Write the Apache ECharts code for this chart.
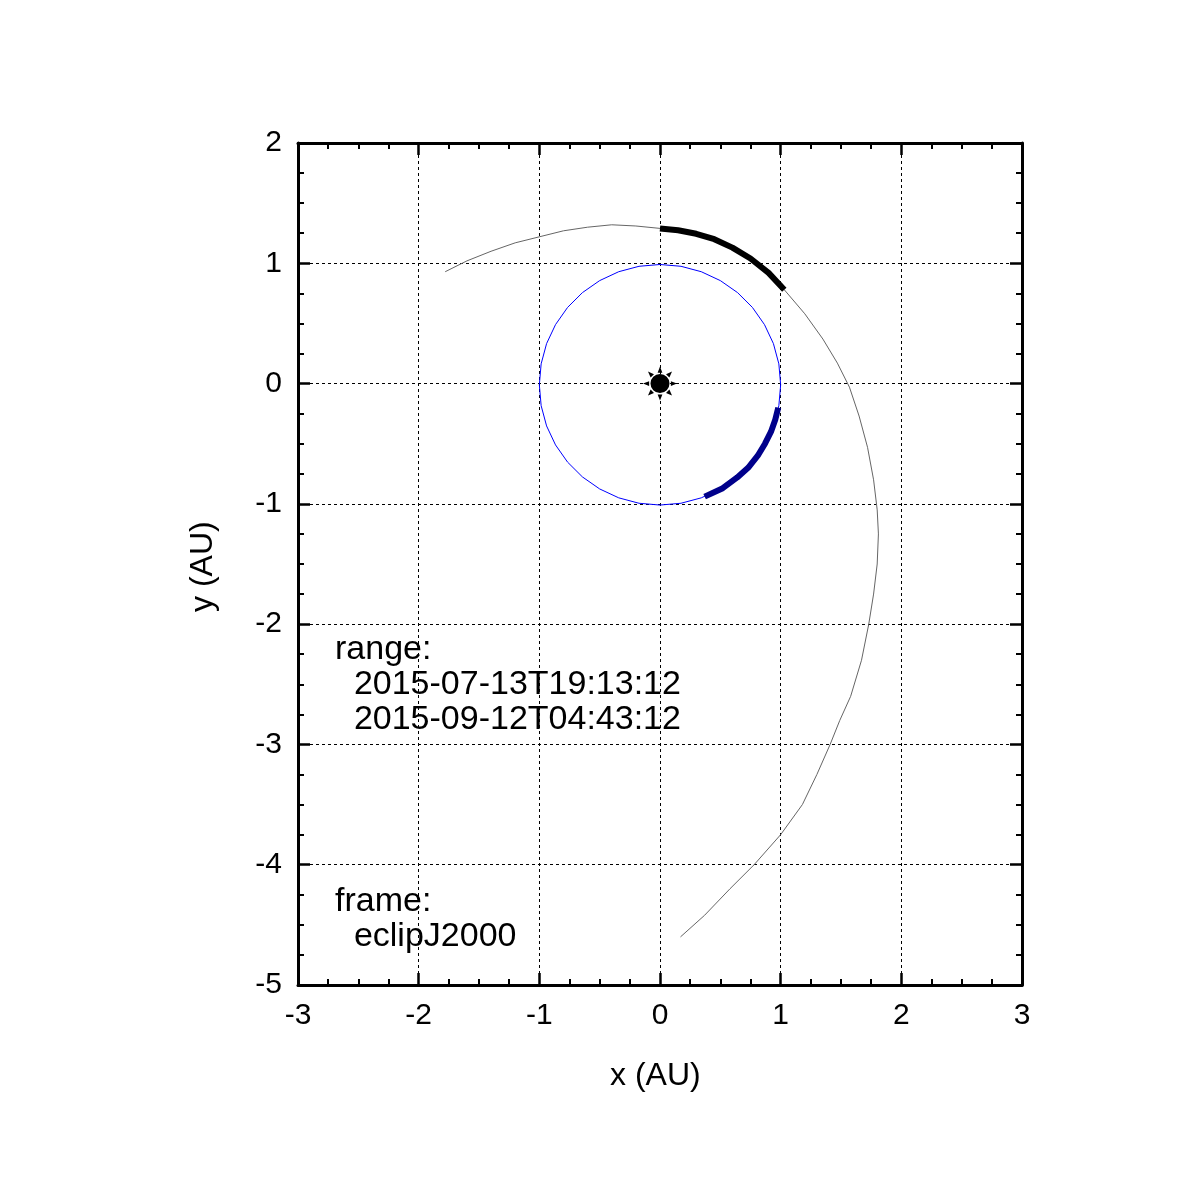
<!DOCTYPE html>
<html>
<head>
<meta charset="utf-8">
<script src="https://cdn.jsdelivr.net/npm/echarts@6/dist/echarts.min.js"></script>
<style>html,body{margin:0;background:#fff}#main{width:1199px;height:1200px}</style>
</head>
<body>
<div id="main"></div>
<script>
// spacecraft trajectory (AU)
var trajectory = [[-1.78,0.93],[-1.6,1.02],[-1.4,1.1],[-1.2,1.17],[-1.0,1.22],[-0.8,1.27],[-0.6,1.30],[-0.4,1.32],[-0.2,1.31],[0,1.29],[0.25,1.25],[0.5,1.17],[0.75,1.03],[1.03,0.78],[1.2,0.58],[1.35,0.37],[1.47,0.17],[1.57,-0.03],[1.65,-0.27],[1.72,-0.53],[1.77,-0.8],[1.80,-1.05],[1.81,-1.25],[1.80,-1.5],[1.77,-1.75],[1.73,-2.0],[1.67,-2.3],[1.58,-2.6],[1.49,-2.8],[1.41,-3.0],[1.30,-3.25],[1.18,-3.5],[1.00,-3.75],[0.78,-4.0],[0.58,-4.2],[0.37,-4.42],[0.17,-4.6]];
var trajectoryRange = [[0,1.29],[0.15,1.275],[0.3,1.245],[0.45,1.2],[0.6,1.13],[0.75,1.04],[0.9,0.92],[1.03,0.78]];
// earth orbit
var earthOrbit = [[1,-0.01],[0.985,0.164],[0.94,0.332],[0.866,0.49],[0.766,0.633],[0.643,0.756],[0.5,0.856],[0.342,0.93],[0.174,0.975],[0,0.99],[-0.174,0.975],[-0.342,0.93],[-0.5,0.856],[-0.643,0.756],[-0.766,0.633],[-0.866,0.49],[-0.94,0.332],[-0.985,0.164],[-1,-0.01],[-0.985,-0.184],[-0.94,-0.352],[-0.866,-0.51],[-0.766,-0.653],[-0.643,-0.776],[-0.5,-0.876],[-0.342,-0.95],[-0.174,-0.995],[0,-1.01],[0.174,-0.995],[0.342,-0.95],[0.5,-0.876],[0.643,-0.776],[0.766,-0.653],[0.866,-0.51],[0.94,-0.352],[0.985,-0.184],[1,-0.01]];
var earthRange = [[0.98,-0.2],[0.955,-0.3],[0.92,-0.4],[0.87,-0.5],[0.81,-0.6],[0.73,-0.7],[0.64,-0.78],[0.52,-0.87],[0.37,-0.94]];
var sun = [[0,0]];
var rangeText = ['range:', '  2015-07-13T19:13:12', '  2015-09-12T04:43:12'];
var frameText = ['frame:', '  eclipJ2000'];

// sun symbol: disc + 8 rays
var sunPath = 'M50,22 A28,28 0 1,1 49.99,22 Z';
for (var i = 0; i < 8; i++) {
  var a = i * Math.PI / 4;
  var c = Math.cos(a), s = Math.sin(a), px = -s, py = c;
  var r1 = 32, r2 = 50, w = 7;
  sunPath += ' M' + (50 + c * r1 + px * w) + ',' + (50 + s * r1 + py * w) +
    ' L' + (50 + c * r2) + ',' + (50 + s * r2) +
    ' L' + (50 + c * r1 - px * w) + ',' + (50 + s * r1 - py * w) + ' Z';
}

var font = 'Liberation Sans, Arial, sans-serif';
var gridStyle = {show: true, lineStyle: {color: '#000', type: [3, 3], width: 1}};
function axis(extra) {
  return Object.assign({
    type: 'value', interval: 1, minorTick: {show: true, splitNumber: 4, length: 6, lineStyle: {color: '#000', width: 2}},
    axisLine: {show: true, onZero: false, lineStyle: {color: '#000', width: 3}},
    axisTick: {show: true, inside: true, length: 12, lineStyle: {color: '#000', width: 2.5}},
    axisLabel: {color: '#000', fontSize: 30, fontFamily: font, margin: 16},
    splitLine: {show: false}
  }, extra);
}

var chart = echarts.init(document.getElementById('main'));
chart.setOption({
  backgroundColor: '#fff',
  animation: false,
  grid: {left: 298, right: 177, top: 143, bottom: 215},
  xAxis: [
    axis({min: -3, max: 3, position: 'bottom', splitLine: gridStyle}),
    axis({min: -3, max: 3, position: 'top', axisLabel: {show: false}})
  ],
  yAxis: [
    axis({min: -5, max: 2, position: 'left', splitLine: gridStyle}),
    axis({min: -5, max: 2, position: 'right', axisLabel: {show: false}})
  ],
  graphic: [
    {type: 'text', left: 610, top: 1060, style: {text: 'x (AU)', font: '32px ' + font, fill: '#000'}},
    {type: 'text', x: 187, y: 612, rotation: Math.PI / 2, style: {text: 'y (AU)', font: '32px ' + font, fill: '#000'}},
    {type: 'text', left: 335, top: 632, style: {text: rangeText.join('\n'), font: '34px ' + font, fill: '#000', lineHeight: 35}},
    {type: 'text', left: 335, top: 884, style: {text: frameText.join('\n'), font: '34px ' + font, fill: '#000', lineHeight: 35}}
  ],
  series: [
    {type: 'line', data: trajectory, showSymbol: false, lineStyle: {color: '#666', width: 1}},
    {type: 'line', data: trajectoryRange, showSymbol: false, lineStyle: {color: '#000', width: 6}},
    {type: 'line', data: earthOrbit, showSymbol: false, lineStyle: {color: '#0000ff', width: 1}},
    {type: 'line', data: earthRange, showSymbol: false, lineStyle: {color: '#00008b', width: 6}},
    {type: 'scatter', data: sun, symbol: 'path://' + sunPath, symbolSize: 34, itemStyle: {color: '#000', opacity: 1}, z: 5}
  ]
});
</script>
</body>
</html>
